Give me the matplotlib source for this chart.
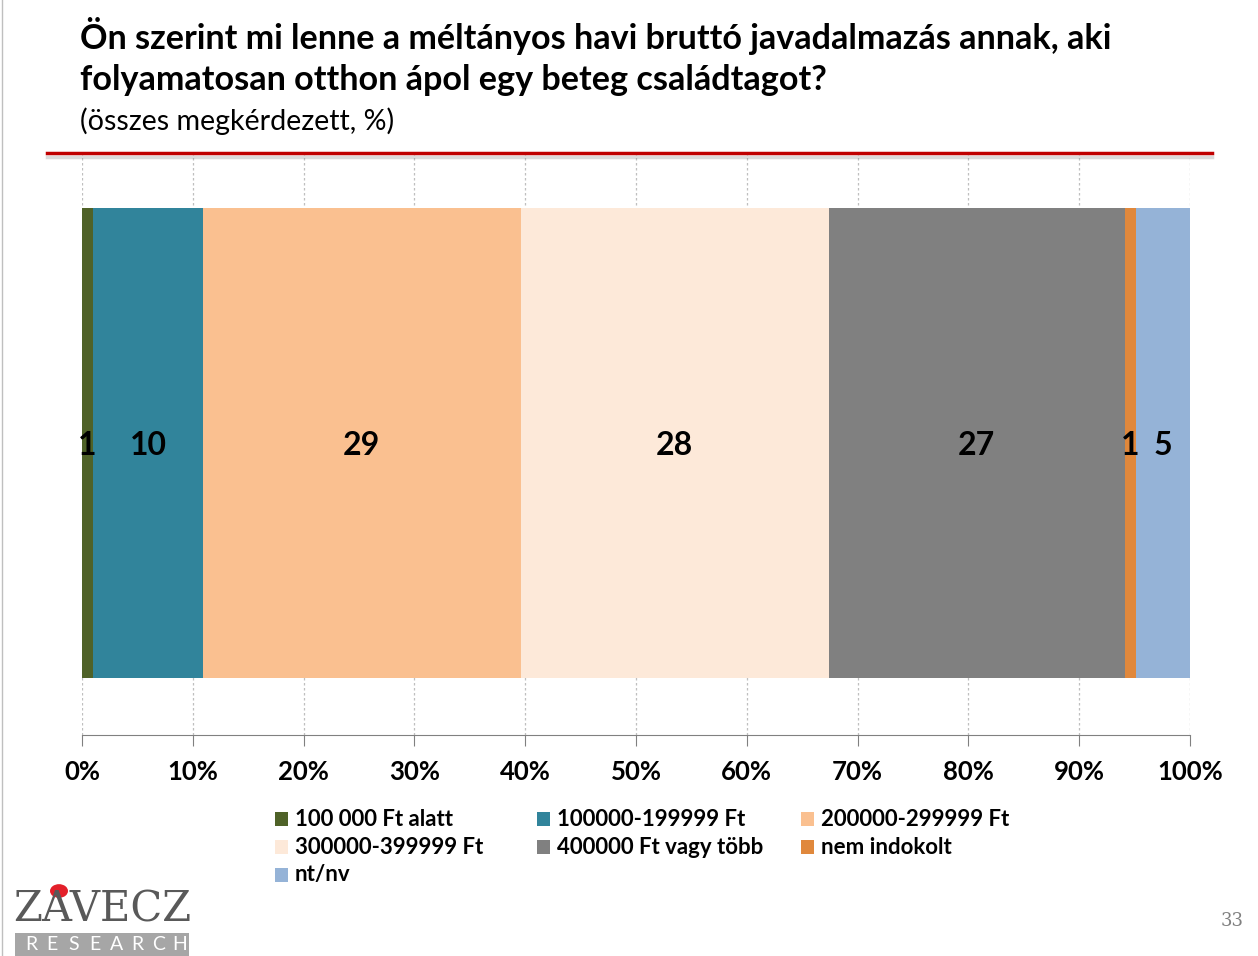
from matplotlib import pyplot as plt
from matplotlib.patches import Rectangle, Circle
import matplotlib.patheffects as pe

# adatok
categories = ['100 000 Ft alatt', '100000-199999 Ft', '200000-299999 Ft',
              '300000-399999 Ft', '400000 Ft vagy több', 'nem indokolt', 'nt/nv']
values = [1.0, 9.9, 28.7, 27.8, 26.7, 1.0, 4.9]
labels = ['1', '10', '29', '28', '27', '1', '5']
colors = ['#4F6228', '#31849B', '#FAC090', '#FDE9D9', '#808080', '#E0883C', '#95B3D7']
xticks = [0, 10, 20, 30, 40, 50, 60, 70, 80, 90, 100]

plt.rcParams['font.family'] = ['Lato', 'DejaVu Sans']

fig = plt.figure(figsize=(12.58, 9.56), dpi=100)
W, H = 1258, 956


def fx(px):
    return px / W


def fy(px):
    return 1 - px / H


# cim
fig.text(fx(80), fy(36), 'Ön szerint mi lenne a méltányos havi bruttó javadalmazás annak, aki',
         fontsize=24.6, fontweight='bold', va='center', ha='left')
fig.text(fx(80), fy(80), 'folyamatosan otthon ápol egy beteg családtagot?',
         fontsize=24.6, fontweight='bold', va='center', ha='left')
fig.text(fx(80), fy(121), '(összes megkérdezett, %)',
         fontsize=20.6, va='center', ha='left')

# piros vonal arnyekkal
line = plt.Line2D([fx(47), fx(1212)], [fy(153), fy(153)], transform=fig.transFigure,
                  color='#C00000', lw=2.5,
                  path_effects=[pe.SimpleLineShadow(offset=(0, -3), shadow_color='#888888', alpha=0.3),
                                pe.Normal()])
fig.add_artist(line)

ax = fig.add_axes([fx(82), fy(735), fx(1190) - fx(82), (735 - 151) / H])
total = sum(values)
left = 0
for v, lab, c in zip(values, labels, colors):
    w = v / total * 100
    ax.barh(0, w, left=left, height=0.805, color=c, zorder=2)
    ax.text(left + w / 2, 0, lab, ha='center', va='center_baseline', fontsize=23,
            fontweight='bold', zorder=3)
    left += w

ax.set_xlim(0, 100)
ax.set_ylim(-0.5, 0.5)
ax.set_yticks([])
ax.set_xticks(xticks)
ax.set_xticklabels([f'{t}%' for t in xticks], fontsize=18.5, fontweight='bold')
ax.tick_params(axis='x', length=8, color='#808080', pad=10)
ax.grid(axis='x', linestyle=(0, (2, 2)), color='#BFBFBF', lw=0.9, zorder=0)
for s in ['top', 'right', 'left']:
    ax.spines[s].set_visible(False)
ax.spines['bottom'].set_color('#808080')

# jelmagyarazat (soronkent 3 elem)
col_x = [275, 537, 801]
for i, (cat, c) in enumerate(zip(categories, colors)):
    x0 = col_x[i % 3]
    y0 = 819 + 28 * (i // 3)
    fig.add_artist(Rectangle((fx(x0), fy(y0 + 7)), 13 / W, 14 / H, transform=fig.transFigure,
                             color=c, lw=0))
    fig.text(fx(x0 + 20), fy(y0), cat, fontsize=16, fontweight='bold', va='center', ha='left')

# logo
fig.text(fx(102), fy(909), 'ZAVECZ', fontsize=30, family='DejaVu Serif',
         color='#595959', ha='center', va='center')
fig.add_artist(Circle((fx(59), fy(891)), 9 / W, transform=fig.transFigure, color='#E3202A', lw=0))
fig.add_artist(Rectangle((fx(15), fy(956)), 174 / W, 23 / H, transform=fig.transFigure,
                         color='#A6A6A6', lw=0))
for k, ch in enumerate('RESEARCH'):
    fig.text(fx(31 + k * 21.3), fy(945), ch, fontsize=14, color='white', ha='center', va='center')
fig.add_artist(plt.Line2D([fx(1.5), fx(1.5)], [0, 1], transform=fig.transFigure,
                          color='#BFBFBF', lw=1))

fig.text(fx(1232), fy(921), '33', fontsize=13, family='DejaVu Serif',
         color='#808080', ha='center', va='center')

plt.savefig('out.png')
